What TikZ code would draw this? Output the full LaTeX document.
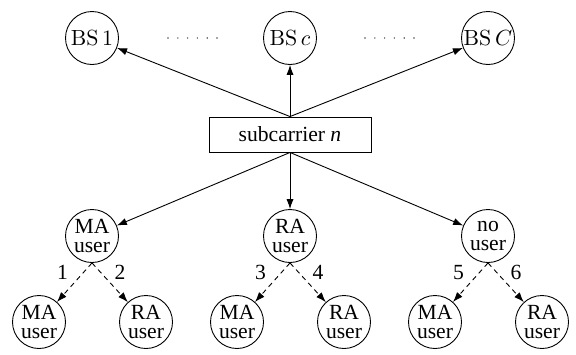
\documentclass[tikz,border=0pt]{standalone}
\usepackage[no-math]{fontspec}
\setmainfont{Liberation Serif}
\usetikzlibrary{arrows.meta}
\begin{document}
\begin{tikzpicture}[x=0.5pt,y=-0.5pt,
  every node/.style={inner sep=0pt},
  circ/.style={draw, circle, minimum size=26.5pt, line width=0.45pt},
  bs/.style={circ, font=\fontsize{11}{12}\selectfont},
  usr/.style={circ, font=\fontsize{10.8}{9.5}\selectfont, align=center},
  lbl/.style={font=\fontsize{10.8}{12}\selectfont},
  arr/.style={line width=0.45pt, -{Latex[length=5pt,width=3.6pt]}},
  darr/.style={line width=0.45pt, dash pattern=on 2.5pt off 2pt, -{Latex[length=5pt,width=3.6pt]}},
  lft/.style={lbl, xshift=-6pt, yshift=5pt},
  rgt/.style={lbl, xshift=5pt, yshift=5pt}
]
\useasboundingbox (0,0) rectangle (576,354);

% base stations (labels in the math fonts)
\node[bs] (bs1) at (92,38) {$\mathrm{BS}\,1$};
\node[bs] (bsc) at (290,38) {$\mathrm{BS}\,c$};
\node[bs] (bsC) at (488,38) {$\mathrm{BS}\,C$};
\foreach \k in {0,...,5} {
  \fill[black!70] (168+9.8*\k,38) circle (0.4pt);
  \fill[black!70] (365+9.8*\k,38) circle (0.4pt);
}

% subcarrier
\node[draw, line width=0.45pt, minimum width=81pt, minimum height=17.5pt,
      font=\fontsize{10.8}{12}\selectfont] (sub) at (290,134.5) {subcarrier \textit{n}};

% first level users
\node[usr] (ma) at (92,236) {MA\\user};
\node[usr] (ra) at (290,236) {RA\\user};
\node[usr] (no) at (488,236) {no\\user};

% second level users
\node[usr] (ma1) at (39,322) {MA\\user};
\node[usr] (ma2) at (146,322) {RA\\user};
\node[usr] (ra1) at (237,322) {MA\\user};
\node[usr] (ra2) at (344,322) {RA\\user};
\node[usr] (no1) at (435,322) {MA\\user};
\node[usr] (no2) at (542,322) {RA\\user};

% connectors
\draw[arr] (sub.north) -- (bs1);
\draw[arr] (sub.north) -- (bsc);
\draw[arr] (sub.north) -- (bsC);
\draw[arr] (sub.south) -- (ma);
\draw[arr] (sub.south) -- (ra);
\draw[arr] (sub.south) -- (no);

\draw[darr] (ma.south) -- node[lft] {1} (ma1);
\draw[darr] (ma.south) -- node[rgt] {2} (ma2);
\draw[darr] (ra.south) -- node[lft] {3} (ra1);
\draw[darr] (ra.south) -- node[rgt] {4} (ra2);
\draw[darr] (no.south) -- node[lft] {5} (no1);
\draw[darr] (no.south) -- node[rgt] {6} (no2);
\end{tikzpicture}
\end{document}
